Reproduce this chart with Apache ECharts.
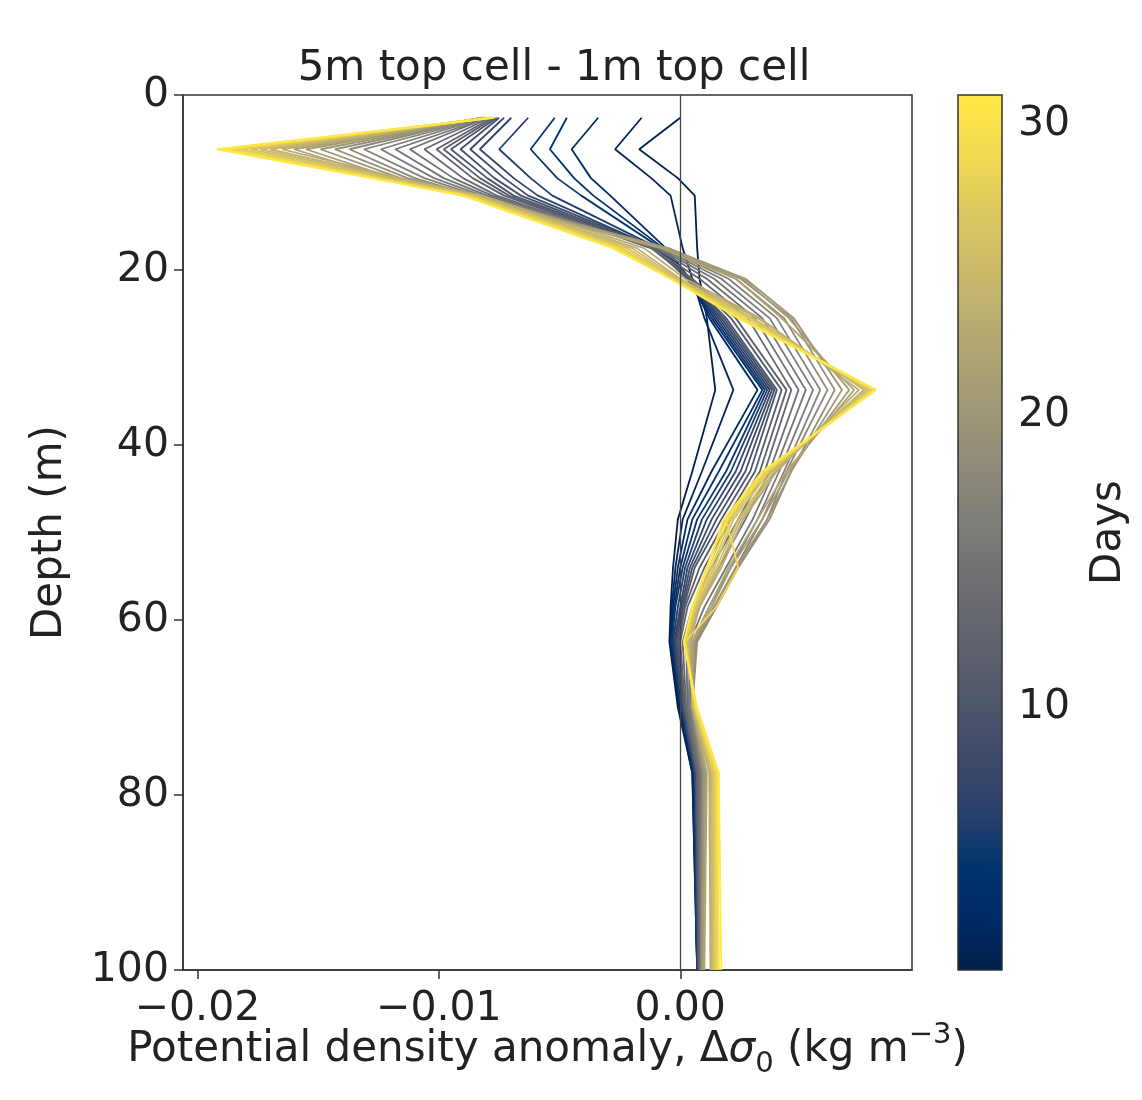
<!DOCTYPE html>
<html lang="en">
<head>
<meta charset="UTF-8">
<title>5m top cell - 1m top cell</title>
<script src="https://cdn.jsdelivr.net/npm/echarts@6/dist/echarts.min.js"></script>
<style>
    html, body { margin: 0; padding: 0; background: #fff; }
    #main { width: 1142px; height: 1100px; }
</style>
</head>
<body>
<div id="main"></div>
<script>
// depth of each profile point (m)
var depths = [2.6, 6.2, 9.5, 11.5, 17.5, 21, 25.5, 33.7, 43, 48.5, 54, 58.5, 62.5, 70, 77.5, 100];

// one profile per day
var days = [1, 2, 3, 4, 5, 6, 7, 8, 9, 10, 11, 12, 13, 14, 15, 16, 17, 18, 19, 20,
            21, 22, 23, 24, 25, 26, 27, 28, 29, 30, 31];

// potential density anomaly, in 1e-3 kg m-3 (row = day, column = depth)
var anomalyE3 = [
    [ 0.0,  -1.7,  -0.1,  0.6,  0.7,  0.8,  1.1, 1.45, 0.5, -0.1, -0.3, -0.4,  -0.45, -0.1,  0.5,  0.7],
    [-1.6,  -2.7,  -1.2, -0.4,  0.1,  0.5,  1.0, 2.2,  0.9,  0.1, -0.2, -0.35, -0.4,  -0.05, 0.5,  0.7],
    [-3.4,  -4.5,  -3.7, -2.9, -0.6,  0.4,  1.2, 3.2,  1.3,  0.3, -0.1, -0.3,  -0.4,   0.0,  0.55, 0.7],
    [-4.7,  -5.4,  -4.4, -3.6, -0.7,  0.3,  1.3, 3.4,  1.6,  0.5,  0.0, -0.25, -0.35,  0.0,  0.55, 0.7],
    [-5.2,  -6.2,  -5.1, -4.1, -0.8,  0.3,  1.4, 3.5,  1.9,  0.7,  0.1, -0.2,  -0.35,  0.05, 0.6,  0.7],
    [-6.3,  -7.5,  -6.2, -5.3, -0.9,  0.3,  1.5, 3.6,  2.1,  0.9,  0.2, -0.1,  -0.3,   0.05, 0.6,  0.7],
    [-7.0,  -8.3,  -6.9, -5.9, -1.0,  0.3,  1.6, 3.7,  2.3,  1.1,  0.3,  0.0,  -0.25,  0.1,  0.6,  0.75],
    [-7.3,  -8.7,  -7.3, -6.3, -1.0,  0.3,  1.7, 3.8,  2.5,  1.3,  0.4,  0.05, -0.2,   0.1,  0.65, 0.75],
    [-7.5,  -9.1,  -7.7, -6.6, -1.1,  0.3,  1.8, 3.9,  2.7,  1.5,  0.5,  0.1,  -0.15,  0.15, 0.65, 0.75],
    [-7.6,  -9.5,  -8.0, -6.9, -1.1,  0.35, 1.9, 4.0,  2.9,  1.7,  0.6,  0.15, -0.1,   0.15, 0.7,  0.75],
    [-7.7,  -9.8,  -8.3, -7.1, -1.2,  0.4,  2.1, 4.2,  3.1,  1.9,  0.8,  0.2,  -0.05,  0.2,  0.7,  0.8],
    [-7.8, -10.1,  -8.6, -7.3, -1.2,  0.5,  2.3, 4.4,  3.3,  2.1,  1.0,  0.3,   0.0,   0.2,  0.7,  0.8],
    [-7.9, -10.6,  -9.0, -7.6, -1.2,  0.8,  2.8, 4.6,  3.5,  2.4,  1.3,  0.5,   0.1,   0.25, 0.75, 0.8],
    [-8.0, -11.2,  -9.4, -7.8, -1.0,  1.1,  3.1, 4.9,  3.7,  2.7,  1.6,  0.8,   0.25,  0.3,  0.8,  0.85],
    [-8.0, -11.8,  -9.8, -8.0, -0.9,  1.4,  3.4, 5.2,  3.9,  3.0,  1.9,  1.0,   0.4,   0.35, 0.85, 0.85],
    [-8.1, -12.4, -10.2, -8.2, -0.8,  1.7,  3.7, 5.5,  4.1,  3.2,  2.1,  1.2,   0.5,   0.4,  0.9,  0.85],
    [-8.1, -13.1, -10.6, -8.4, -0.7,  2.0,  4.0, 5.8,  4.3,  3.4,  2.3,  1.4,   0.6,   0.45, 0.9,  0.85],
    [-8.2, -13.7, -11.0, -8.6, -0.6,  2.3,  4.3, 6.1,  4.4,  3.6,  2.4,  1.5,   0.65,  0.5,  0.95, 0.9],
    [-8.2, -14.3, -11.3, -8.7, -0.5,  2.5,  4.6, 6.4,  4.6,  3.7,  2.4,  1.5,   0.7,   0.5,  0.95, 0.9],
    [-8.2, -14.9, -11.6, -8.8, -0.5,  2.7,  4.7, 6.7,  4.6,  3.6,  2.3,  1.4,   0.6,   0.5,  1.0,  0.9],
    [-8.2, -15.5, -11.9, -8.9, -0.6,  2.6,  4.5, 7.0,  4.5,  3.4,  2.1,  1.3,   0.55,  0.5,  1.05, 0.95],
    [-8.2, -16.0, -12.1, -9.0, -0.8,  2.3,  4.2, 7.2,  4.4,  3.2,  2.0,  1.2,   0.5,   0.5,  1.1,  1.0],
    [-8.1, -16.5, -11.6, -8.2, -1.5,  0.2,  3.3, 7.4,  4.0,  2.6,  1.7,  0.8,   0.4,   0.5,  1.2,  1.25],
    [-8.1, -17.0, -11.8, -8.4, -1.8,  0.0,  3.2, 7.6,  3.9,  2.5,  1.6,  0.75,  0.35,  0.55, 1.25, 1.3],
    [-8.0, -17.4, -12.0, -8.5, -2.0, -0.1,  3.0, 7.7,  3.8,  2.4,  1.5,  0.7,   0.3,   0.55, 1.3,  1.35],
    [-8.0, -17.8, -12.2, -8.6, -2.2, -0.2,  2.9, 7.8,  3.7,  2.2,  1.4,  0.65,  0.25,  0.6,  1.35, 1.4],
    [-7.9, -18.2, -12.4, -8.7, -2.4, -0.3,  2.8, 7.9,  3.6,  2.1,  1.3,  0.6,   0.2,   0.6,  1.4,  1.45],
    [-7.9, -18.5, -12.5, -8.8, -2.5, -0.3,  2.6, 8.0,  3.6,  2.0,  1.2,  0.55,  0.2,   0.6,  1.45, 1.5],
    [-7.8, -18.8, -12.6, -8.9, -2.6, -0.4,  2.5, 8.0,  3.5,  1.9,  2.4,  1.5,   0.2,   0.65, 1.5,  1.55],
    [-7.8, -19.0, -12.7, -9.0, -2.7, -0.4,  2.5, 8.1,  3.5,  1.9,  1.1,  0.5,   0.15,  0.65, 1.55, 1.6],
    [-7.7, -19.2, -12.8, -9.0, -2.8, -0.4,  2.4, 8.1,  3.4,  1.8,  1.1,  0.5,   0.15,  0.7,  1.6,  1.7]
];

var xTicks = [-0.02, -0.01, 0];
var dayTicks = [10, 20, 30];

// cividis colour map, low -> high
var cividis = [
    [0, 32, 76], [0, 42, 102], [0, 52, 110], [39, 63, 108], [60, 74, 107], [76, 85, 107],
    [91, 95, 109], [104, 106, 112], [117, 117, 117], [131, 129, 120], [146, 140, 120],
    [161, 152, 118], [176, 165, 114], [192, 177, 109], [209, 191, 102], [225, 204, 92],
    [243, 219, 79], [255, 233, 69]
];

var dayMin = 1, dayMax = 31;

function cividisAt(t) {
    var n = cividis.length - 1;
    var p = Math.max(0, Math.min(1, t)) * n;
    var i = Math.min(Math.floor(p), n - 1);
    var f = p - i;
    var a = cividis[i], b = cividis[i + 1];
    return 'rgb(' + Math.round(a[0] + (b[0] - a[0]) * f) + ',' +
        Math.round(a[1] + (b[1] - a[1]) * f) + ',' +
        Math.round(a[2] + (b[2] - a[2]) * f) + ')';
}

var font = 'DejaVu Sans';
var ink = '#222';
var spine = '#333';

var series = [];
days.forEach(function (day, k) {
    var pts = depths.map(function (d, j) { return [anomalyE3[k][j] * 1e-3, d]; });
    var s = {
        type: 'line',
        name: 'Day ' + day,
        xAxisIndex: 0,
        yAxisIndex: 0,
        data: pts,
        symbol: 'none',
        clip: true,
        silent: true,
        lineStyle: { color: cividisAt((day - dayMin) / (dayMax - dayMin)), width: 1.8 }
    };
    if (k === days.length - 1) {
        // vertical zero line
        s.markLine = {
            silent: true,
            symbol: ['none', 'none'],
            label: { show: false },
            lineStyle: { color: '#444', width: 1.3, type: 'solid' },
            data: [{ xAxis: 0 }]
        };
    }
    series.push(s);
});

// colorbar
var barStops = [];
for (var i = 0; i < cividis.length; i++) {
    var c = cividis[cividis.length - 1 - i];
    barStops.push({ offset: i / (cividis.length - 1), color: 'rgb(' + c.join(',') + ')' });
}
series.push({
    type: 'custom',
    xAxisIndex: 1,
    yAxisIndex: 1,
    silent: true,
    data: [[0, dayMin, 1, dayMax]],
    renderItem: function (params, api) {
        var p0 = api.coord([api.value(0), api.value(3)]);
        var p1 = api.coord([api.value(2), api.value(1)]);
        return {
            type: 'rect',
            shape: { x: p0[0], y: p0[1], width: p1[0] - p0[0], height: p1[1] - p0[1] },
            style: {
                fill: new echarts.graphic.LinearGradient(0, 0, 0, 1, barStops),
                stroke: spine,
                lineWidth: 1.5
            }
        };
    }
});

var myChart = echarts.init(document.getElementById('main'));
myChart.setOption({
    animation: false,
    backgroundColor: '#fff',
    textStyle: { fontFamily: font, color: ink },
    title: {
        text: '5m top cell - 1m top cell',
        left: 549,
        top: 43,
        textAlign: 'center',
        textStyle: { fontFamily: font, fontSize: 42, fontWeight: 'normal', color: ink }
    },
    grid: [
        { left: 183, top: 95, width: 729, height: 875, show: true, borderColor: spine, borderWidth: 1.5, backgroundColor: 'transparent' },
        { left: 958, top: 95, width: 44, height: 875 }
    ],
    xAxis: [
        {
            type: 'value',
            gridIndex: 0,
            min: -0.0206,
            max: 0.0096,
            axisLine: { show: true, onZero: false, lineStyle: { color: spine, width: 1.5 } },
            axisTick: { show: true, customValues: xTicks, length: 9, lineStyle: { color: spine, width: 1.5 } },
            axisLabel: {
                customValues: xTicks,
                fontSize: 41,
                color: ink,
                margin: 19,
                formatter: function (v) { return (v < 0 ? '\u2212' : '') + Math.abs(v).toFixed(2); }
            },
            splitLine: { show: false },
            name: '{t|Potential density anomaly, \u0394}{s|\u03c3}{sub|0}{t| (kg m}{sup|\u22123}{t|)}',
            nameLocation: 'middle',
            nameGap: 51,
            nameMoveOverlap: false,
            nameTextStyle: {
                rich: {
                    t: { fontFamily: font, fontSize: 42, color: ink, lineHeight: 58 },
                    s: { fontFamily: font, fontSize: 42, fontStyle: 'italic', color: ink, lineHeight: 58 },
                    sub: { fontFamily: font, fontSize: 29, color: ink, lineHeight: 58, verticalAlign: 'bottom' },
                    sup: { fontFamily: font, fontSize: 29, color: ink, lineHeight: 58, verticalAlign: 'top' }
                }
            }
        },
        { type: 'value', gridIndex: 1, min: 0, max: 1, show: false }
    ],
    yAxis: [
        {
            type: 'value',
            gridIndex: 0,
            inverse: true,
            min: 0,
            max: 100,
            interval: 20,
            axisLine: { show: true, onZero: false, lineStyle: { color: spine, width: 1.5 } },
            axisTick: { show: true, length: 9, lineStyle: { color: spine, width: 1.5 } },
            axisLabel: { fontSize: 41, color: ink, margin: 14 },
            splitLine: { show: false },
            name: 'Depth (m)',
            nameLocation: 'middle',
            nameGap: 112,
            nameMoveOverlap: false,
            nameTextStyle: { fontFamily: font, fontSize: 42, color: ink }
        },
        {
            type: 'value',
            gridIndex: 1,
            position: 'right',
            min: dayMin,
            max: dayMax,
            axisLine: { show: false },
            axisTick: { show: true, customValues: dayTicks, length: 9, lineStyle: { color: spine, width: 1.5 } },
            axisLabel: { customValues: dayTicks, fontSize: 41, color: ink, margin: 16 },
            splitLine: { show: false },
            name: 'Days',
            nameLocation: 'middle',
            nameGap: 86,
            nameRotate: 90,
            nameMoveOverlap: false,
            nameTextStyle: { fontFamily: font, fontSize: 42, color: ink }
        }
    ],
    series: series
});
</script>
</body>
</html>
